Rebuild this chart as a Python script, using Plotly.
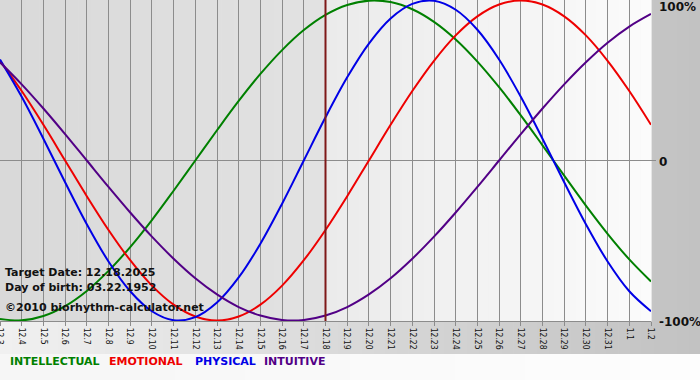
import plotly.graph_objects as go

# ---- data ----
dates = ["12.3", "12.4", "12.5", "12.6", "12.7", "12.8", "12.9", "12.10", "12.11",
         "12.12", "12.13", "12.14", "12.15", "12.16", "12.17", "12.18", "12.19",
         "12.20", "12.21", "12.22", "12.23", "12.24", "12.25", "12.26", "12.27",
         "12.28", "12.29", "12.30", "12.31", "1.1", "1.2"]

intellectual = [-0.990, -0.999, -0.972, -0.910, -0.815, -0.690, -0.541, -0.372, -0.189,
                0.000, 0.189, 0.372, 0.541, 0.690, 0.815, 0.910, 0.972, 0.999, 0.990,
                0.945, 0.866, 0.756, 0.618, 0.458, 0.282, 0.095, -0.095, -0.282,
                -0.458, -0.618, -0.756]
emotional = [0.623, 0.434, 0.223, 0.000, -0.223, -0.434, -0.623, -0.782, -0.901,
             -0.975, -1.000, -0.975, -0.901, -0.782, -0.623, -0.434, -0.223, 0.000,
             0.223, 0.434, 0.623, 0.782, 0.901, 0.975, 1.000, 0.975, 0.901, 0.782,
             0.623, 0.434, 0.223]
physical = [0.631, 0.398, 0.136, -0.136, -0.398, -0.631, -0.817, -0.942, -0.998,
            -0.979, -0.888, -0.731, -0.520, -0.270, 0.000, 0.270, 0.520, 0.731,
            0.888, 0.979, 0.998, 0.942, 0.817, 0.631, 0.398, 0.136, -0.136, -0.398,
            -0.631, -0.817, -0.942]
intuitive = [0.614, 0.476, 0.325, 0.165, 0.000, -0.165, -0.325, -0.476, -0.614,
             -0.736, -0.837, -0.916, -0.969, -0.997, -0.997, -0.969, -0.916, -0.837,
             -0.736, -0.614, -0.476, -0.325, -0.165, 0.000, 0.165, 0.325, 0.476,
             0.614, 0.736, 0.837, 0.916]

series_names = ["INTELLECTUAL", "EMOTIONAL", "PHYSICAL", "INTUITIVE"]
series_colors = ["#008000", "#ee0000", "#0000e6", "#520086"]
target_date = "12.18"
info_lines = ["Target Date: 12.18.2025", "Day of birth: 03.22.1952",
              "\u00a92010 biorhythm-calculator.net"]
y_labels = ["100%", "0", "-100%"]
y_label_values = [1, 0, -1]

# ---- layout geometry (pixels) ----
W, H = 700, 380
PW, PH = 651, 321  # plot area size


def px_x(px):
    return px / PW


def px_y(py):
    return (PH - py) / PH


def mix(c1, c2, t):
    a = [int(c1[i:i + 2], 16) for i in (1, 3, 5)]
    b = [int(c2[i:i + 2], 16) for i in (1, 3, 5)]
    return "#%02x%02x%02x" % tuple(round(a[k] + (b[k] - a[k]) * t) for k in range(3))


shapes = []


def gradient(x0, x1, y0, y1, c0, c1, n=40):
    step = (x1 - x0) / n
    for k in range(n):
        col = mix(c0, c1, k / (n - 1))
        shapes.append(dict(type="rect", xref="paper", yref="paper",
                           x0=px_x(x0 + k * step), x1=px_x(x0 + (k + 1) * step + 0.6),
                           y0=px_y(y1), y1=px_y(y0), fillcolor=col,
                           line=dict(width=0), layer="below"))


# page background and bands
gradient(0, W, 0, 354, "#f0f0f0", "#c2c2c2", n=60)
gradient(0, W, 354, H, "#f6f6f6", "#fdfdfd", n=20)
# plot area: past (darker) and future (lighter)
xi = list(range(len(dates)))
t_idx = dates.index(target_date)
x_target_px = PW * t_idx / (len(dates) - 1)
gradient(0, x_target_px, 0, PH, "#d9d9d9", "#e2e2e2", n=25)
gradient(x_target_px, PW, 0, PH, "#ebebeb", "#fbfbfb", n=30)

# target date line
shapes.append(dict(type="line", xref="x", yref="paper", x0=t_idx, x1=t_idx, y0=0, y1=1,
                   line=dict(color="#7e1818", width=2), layer="above"))
# small tick at zero on the right
shapes.append(dict(type="line", xref="paper", yref="y", x0=1, x1=px_x(PW + 5), y0=0, y1=0,
                   line=dict(color="#8c8c8c", width=1)))

fig = go.Figure()
for name, vals, col in zip(series_names, [intellectual, emotional, physical, intuitive],
                           series_colors):
    fig.add_trace(go.Scatter(x=xi, y=vals, mode="lines", name=name,
                             line=dict(color=col, width=2, shape="spline", smoothing=1.0),
                             hoverinfo="skip"))

annotations = []
bold = dict(family="DejaVu Sans", size=11, color="#111111")
for txt, py in zip(info_lines, [272, 287, 307]):
    annotations.append(dict(text="<b>%s</b>" % txt, xref="paper", yref="paper",
                            x=px_x(3), y=px_y(py), xanchor="left", yanchor="middle",
                            showarrow=False, font=bold))

for txt, val, anc in zip(y_labels, y_label_values, ["top", "middle", "middle"]):
    annotations.append(dict(text="<b>%s</b>" % txt, xref="paper", yref="y",
                            x=px_x(657), y=val, xanchor="left", yanchor=anc,
                            yshift=(2 if anc == "top" else -1.5),
                            showarrow=False,
                            font=dict(family="DejaVu Sans", size=12, color="#111111")))

for name, col, px0 in zip(series_names, series_colors, [8, 107, 193, 262]):
    annotations.append(dict(text="<b>%s</b>" % name, xref="paper", yref="paper",
                            x=px_x(px0), y=px_y(362), xanchor="left", yanchor="middle",
                            showarrow=False,
                            font=dict(family="DejaVu Sans", size=11, color=col)))

fig.update_layout(
    template="none",
    width=W, height=H,
    margin=dict(l=0, r=W - PW, t=0, b=H - PH, pad=0, autoexpand=False),
    paper_bgcolor="rgba(0,0,0,0)",
    plot_bgcolor="rgba(0,0,0,0)",
    showlegend=False,
    hovermode=False,
    shapes=shapes,
    annotations=annotations,
    xaxis=dict(range=[0, len(dates) - 1], tickmode="array", tickvals=xi, ticktext=dates,
               tickangle=90, ticks="outside", ticklen=4, tickcolor="#8c8c8c",
               ticklabeloverflow="allow",
               showgrid=True, gridcolor="#8c8c8c", gridwidth=1,
               showline=True, linecolor="#8c8c8c", linewidth=1, mirror=True,
               zeroline=False, fixedrange=True,
               tickfont=dict(family="DejaVu Sans Condensed, DejaVu Sans", size=8.5,
                             color="#111111")),
    yaxis=dict(range=[-1.003, 1.003], showticklabels=False, showgrid=False,
               zeroline=True, zerolinecolor="#8c8c8c", zerolinewidth=1,
               showline=False, ticks="", fixedrange=True),
)

fig.write_html("out.html", config={"displayModeBar": False, "staticPlot": True},
               post_script="document.body.style.margin='0';document.body.style.padding='0';"
                           "document.body.style.overflow='hidden';")
